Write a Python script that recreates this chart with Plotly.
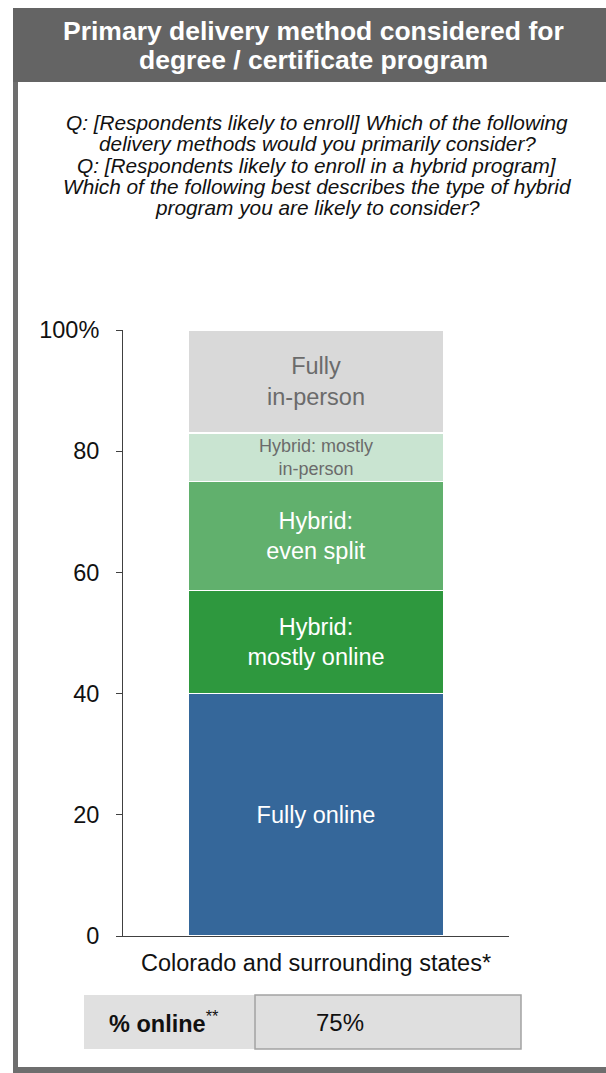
import plotly.graph_objects as go

# ---- data ----
category = ["Colorado and surrounding states*"]
segments = ["Fully online", "Hybrid: mostly online", "Hybrid: even split",
            "Hybrid: mostly in-person", "Fully in-person"]
segment_labels = ["Fully online", "Hybrid:<br>mostly online", "Hybrid:<br>even split",
                  "Hybrid: mostly<br>in-person", "Fully<br>in-person"]
values = [40, 17, 18, 8, 17]
pct_online = 75

y_tickvals = [0, 20, 40, 60, 80, 100]
y_ticktext = ["0", "20", "40", "60", "80", "100%"]

title_lines = ["Primary delivery method considered for", "degree / certificate program"]
question_lines = [
    "Q: [Respondents likely to enroll] Which of the following",
    "delivery methods would you primarily consider?",
    "Q: [Respondents likely to enroll in a hybrid program]",
    "Which of the following best describes the type of hybrid",
    "program you are likely to consider?",
]

# ---- styling ----
colors = ["#35679A", "#2E983E", "#61B06D", "#C9E4D1", "#D9D9D9"]
text_colors = ["white", "white", "white", "#6B6B6B", "#6B6B6B"]
text_sizes = [23.5, 23.5, 23.5, 18, 23.5]
FONT = "Liberation Sans, Arial, sans-serif"

W, H = 606, 1073
L, R, T, B = 123, 97, 330, 137
PW, PH = W - L - R, H - T - B


def px(x):
    return (x - L) / PW


def py(y):
    return (H - B - y) / PH


fig = go.Figure()
for name, lab, v, c, tc, ts in zip(segments, segment_labels, values, colors, text_colors, text_sizes):
    fig.add_trace(go.Bar(
        x=category, y=[v], name=name, width=0.66,
        marker=dict(color=c, line=dict(color="white", width=1.5)),
        text=[lab], textposition="inside", insidetextanchor="middle",
        constraintext="none", textangle=0,
        textfont=dict(color=tc, size=ts, family=FONT),
        hoverinfo="name+y",
    ))

shapes = [
    # header band
    dict(type="rect", xref="paper", yref="paper", x0=px(13), x1=px(610), y0=py(82), y1=py(8),
         fillcolor="#646464", line=dict(width=0), layer="below"),
    # left frame edge
    dict(type="rect", xref="paper", yref="paper", x0=px(13), x1=px(18), y0=py(1073), y1=py(82),
         fillcolor="#6E6E6E", line=dict(width=0), layer="below"),
    # bottom frame edge
    dict(type="rect", xref="paper", yref="paper", x0=px(13), x1=px(610), y0=py(1073), y1=py(1067),
         fillcolor="#6E6E6E", line=dict(width=0), layer="below"),
    # % online summary box
    dict(type="rect", xref="paper", yref="paper", x0=px(84), x1=px(255), y0=py(1049), y1=py(995),
         fillcolor="#E0E0E0", line=dict(width=0), layer="below"),
    dict(type="rect", xref="paper", yref="paper", x0=px(255), x1=px(521), y0=py(1049), y1=py(995),
         fillcolor="#DFDFDF", line=dict(color="#A3A3A3", width=1.5), layer="below"),
]

annotations = []
for i, line in enumerate(title_lines):
    annotations.append(dict(
        text="<b>" + line + "</b>", xref="paper", yref="paper", x=px(313), y=py(31 + 29 * i),
        xanchor="center", yanchor="middle", showarrow=False,
        font=dict(color="white", size=26.5, family=FONT)))
for i, line in enumerate(question_lines):
    annotations.append(dict(
        text="<i>" + line + "</i>", xref="paper", yref="paper", x=px(317), y=py(122 + 21.5 * i),
        xanchor="center", yanchor="middle", showarrow=False,
        font=dict(color="#111111", size=20.8, family=FONT)))
annotations.append(dict(
    text="<b>% online</b><sup>**</sup>", xref="paper", yref="paper", x=px(107), y=py(1022),
    xanchor="left", yanchor="middle", showarrow=False,
    font=dict(color="#111111", size=23.5, family=FONT)))
annotations.append(dict(
    text=f"{pct_online}%", xref="paper", yref="paper", x=px(340), y=py(1022),
    xanchor="center", yanchor="middle", showarrow=False,
    font=dict(color="#111111", size=24, family=FONT)))

fig.update_layout(
    barmode="stack",
    width=W, height=H, autosize=False,
    margin=dict(l=L, r=R, t=T, b=B, pad=0),
    paper_bgcolor="white", plot_bgcolor="white",
    showlegend=False,
    font=dict(family=FONT, color="#111111"),
    shapes=shapes, annotations=annotations,
    xaxis=dict(type="category", range=[-0.5, 0.5], showline=True, linecolor="#404040", linewidth=1,
               ticks="", showgrid=False, zeroline=False, ticklabelstandoff=6,
               tickfont=dict(size=23.5, color="#111111", family=FONT)),
    yaxis=dict(range=[0, 100], tickvals=y_tickvals, ticktext=y_ticktext, showline=True,
               linecolor="#404040", linewidth=1, ticks="outside", ticklen=6, tickcolor="#404040",
               showgrid=False, zeroline=False, ticklabelstandoff=12,
               tickfont=dict(size=23.5, color="#111111", family=FONT)),
)

fig.write_html("out.html")
